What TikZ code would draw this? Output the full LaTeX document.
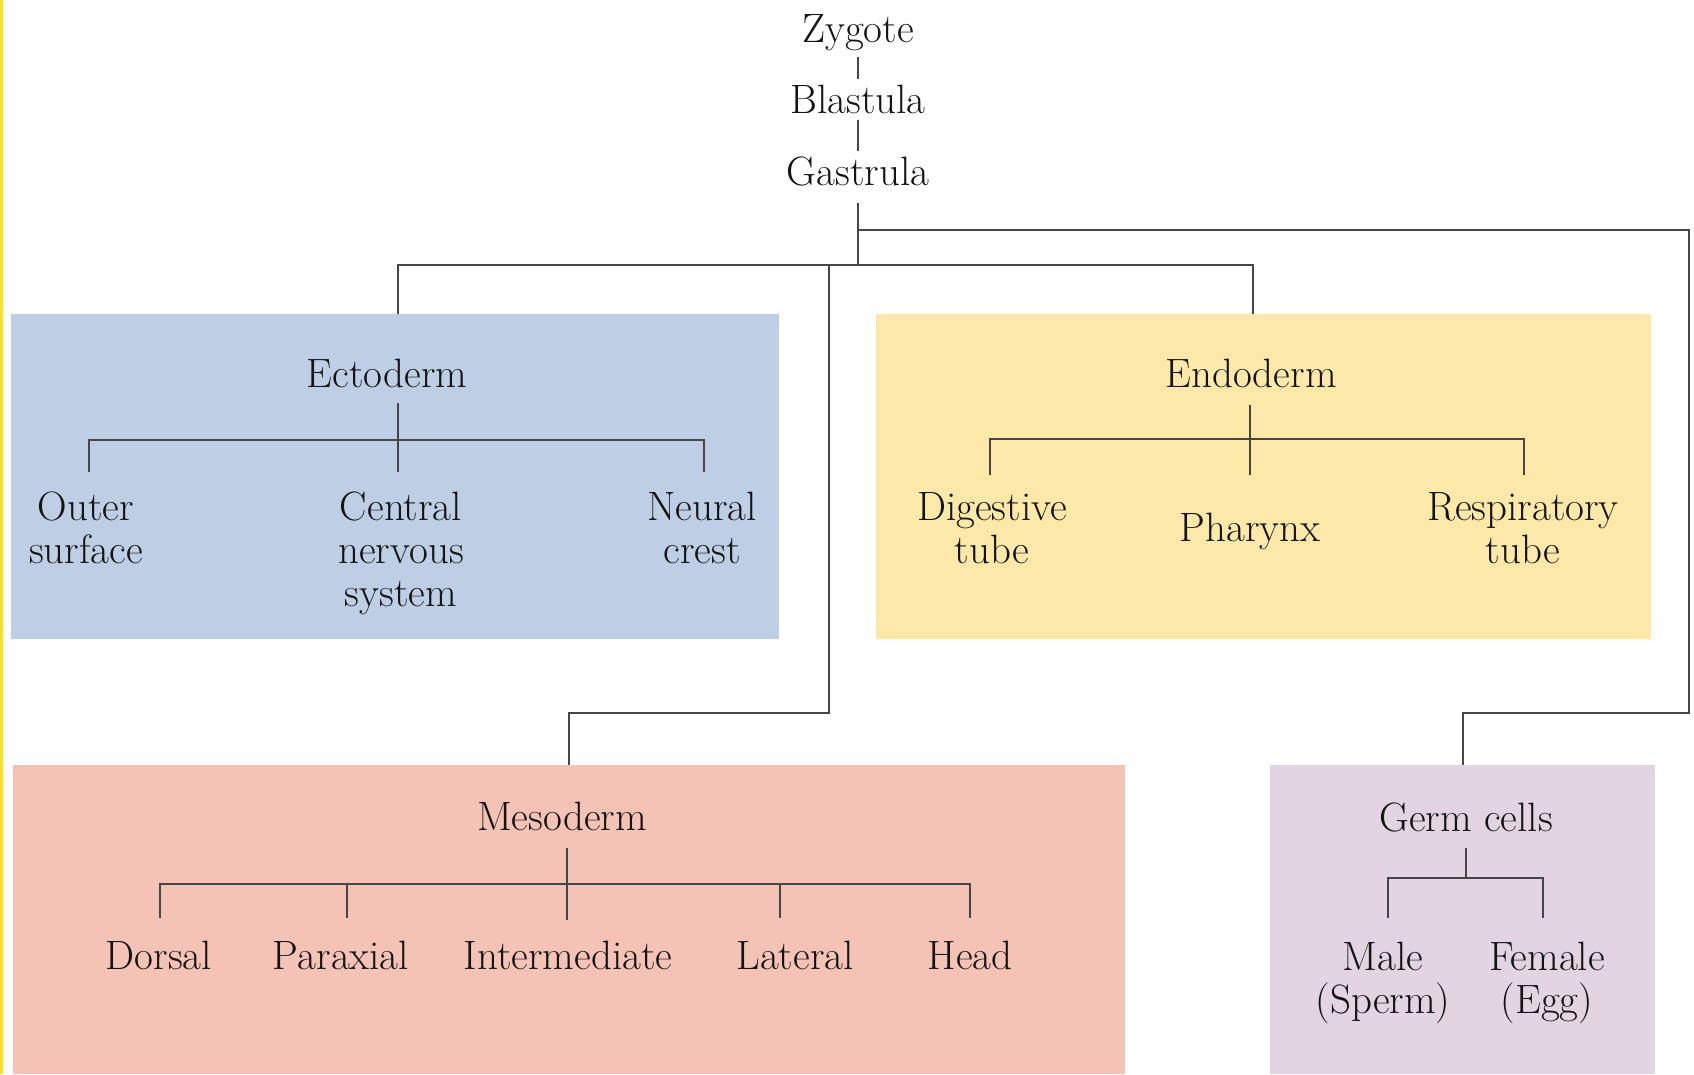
\documentclass[tikz,border=0pt]{standalone}
\definecolor{ectoC}{RGB}{190,207,229}
\definecolor{endoC}{RGB}{252,232,168}
\definecolor{mesoC}{RGB}{244,195,181}
\definecolor{germC}{RGB}{226,213,225}
\definecolor{edgeY}{RGB}{250,225,40}
\definecolor{ln}{RGB}{70,70,70}
\definecolor{txt}{RGB}{20,20,20}
\begin{document}
\begin{tikzpicture}[x=1pt,y=-1pt,
  lbl/.style={font=\fontsize{41}{43}\selectfont, text=txt, inner sep=0pt, align=center, anchor=base},
  conn/.style={draw=ln, line width=2.2pt},
  boxsh/.style={draw=none, inner sep=0pt, anchor=north west}]
\useasboundingbox (0,0) rectangle (1694,1074);
\fill[white] (0,0) rectangle (1694,1074);
\fill[edgeY] (0,0) rectangle (2.5,1074);
% boxes
\node[boxsh, fill=ectoC, minimum width=768pt, minimum height=325pt] (ectobox) at (11,314) {};
\node[boxsh, fill=endoC, minimum width=775pt, minimum height=325pt] (endobox) at (876,314) {};
\node[boxsh, fill=mesoC, minimum width=1112pt, minimum height=309pt] (mesobox) at (13,765) {};
\node[boxsh, fill=germC, minimum width=385pt, minimum height=309pt] (germbox) at (1270,765) {};
% top chain
\node[lbl] (zyg) at (858,42) {Zygote};
\node[lbl] (bla) at (858,113) {Blastula};
\node[lbl] (gas) at (858,185) {Gastrula};
\draw[conn, shorten <=6pt, shorten >=5pt] (zyg) -- (bla);
\draw[conn, shorten <=6pt, shorten >=5pt] (bla) -- (gas);
% main branches
\coordinate (gs) at (858,203);
\coordinate (hub) at (858,265);
\coordinate (ectoDrop) at (398,314);
\coordinate (endoDrop) at (1253,314);
\coordinate (mesoSplit) at (829,265);
\coordinate (mesoBend) at (829,713);
\coordinate (germSplit) at (858,230);
\coordinate (germCorner) at (1689,230);
\coordinate (germBend) at (1689,713);
\draw[conn] (gs) -- (hub);
\draw[conn] (ectoDrop) |- (hub) -| (endoDrop);
\draw[conn] (mesoSplit) -- (mesoBend) -| (mesobox.north);
\draw[conn] (germSplit) -- (germCorner) -- (germBend) -| (germbox.north);
% ectoderm
\node[lbl] (ecto) at (387,387) {Ectoderm};
\node[lbl] (outer) at (86,563) {Outer\\surface};
\node[lbl] (cns) at (401,606) {Central\\nervous\\system};
\node[lbl] (neural) at (702,563) {Neural\\crest};
\coordinate (ecS1) at (398,403);
\coordinate (ecS2) at (398,472);
\coordinate (ecL1) at (89,472);
\coordinate (ecL2) at (89,440);
\coordinate (ecR1) at (704,440);
\coordinate (ecR2) at (704,472);
\draw[conn, line width=2pt] (ecS1) -- (ecS2);
\draw[conn, line width=2pt] (ecL1) -- (ecL2) -- (ecR1) -- (ecR2);
% endoderm
\node[lbl] (endo) at (1251,387) {Endoderm};
\node[lbl] (dig) at (992,563) {Digestive\\tube};
\node[lbl] (phar) at (1250,541) {Pharynx};
\node[lbl] (resp) at (1523,563) {Respiratory\\tube};
\coordinate (enS1) at (1250,405);
\coordinate (enS2) at (1250,475);
\coordinate (enL1) at (990,475);
\coordinate (enL2) at (990,439);
\coordinate (enR1) at (1524,439);
\coordinate (enR2) at (1524,475);
\draw[conn, line width=2pt] (enS1) -- (enS2);
\draw[conn, line width=2pt] (enL1) -- (enL2) -- (enR1) -- (enR2);
% mesoderm
\node[lbl] (meso) at (562,830) {Mesoderm};
\node[lbl] (dorsal) at (159,969) {Dorsal};
\node[lbl] (parax) at (341,969) {Paraxial};
\node[lbl] (inter) at (568,969) {Intermediate};
\node[lbl] (lat) at (795,969) {Lateral};
\node[lbl] (head) at (970,969) {Head};
\coordinate (msS1) at (567,848);
\coordinate (msS2) at (567,920);
\coordinate (msA1) at (160,918);
\coordinate (msA2) at (160,884);
\coordinate (msE2) at (970,884);
\coordinate (msE1) at (970,918);
\coordinate (msB1) at (347,884);
\coordinate (msB2) at (347,918);
\coordinate (msD1) at (780,884);
\coordinate (msD2) at (780,918);
\draw[conn, line width=2pt] (msS1) -- (msS2);
\draw[conn, line width=2pt] (msA1) -- (msA2) -- (msE2) -- (msE1);
\draw[conn, line width=2pt] (msB1) -- (msB2);
\draw[conn, line width=2pt] (msD1) -- (msD2);
% germ cells
\node[lbl] (germ) at (1466,831) {Germ cells};
\node[lbl] (male) at (1383,1013) {Male\\(Sperm)};
\node[lbl] (female) at (1547,1013) {Female\\(Egg)};
\coordinate (gcS1) at (1466,848);
\coordinate (gcS2) at (1466,878);
\coordinate (gcL1) at (1388,918);
\coordinate (gcL2) at (1388,878);
\coordinate (gcR2) at (1543,878);
\coordinate (gcR1) at (1543,918);
\draw[conn, line width=2pt] (gcS1) -- (gcS2);
\draw[conn, line width=2pt] (gcL1) -- (gcL2) -- (gcR2) -- (gcR1);
\end{tikzpicture}
\end{document}
